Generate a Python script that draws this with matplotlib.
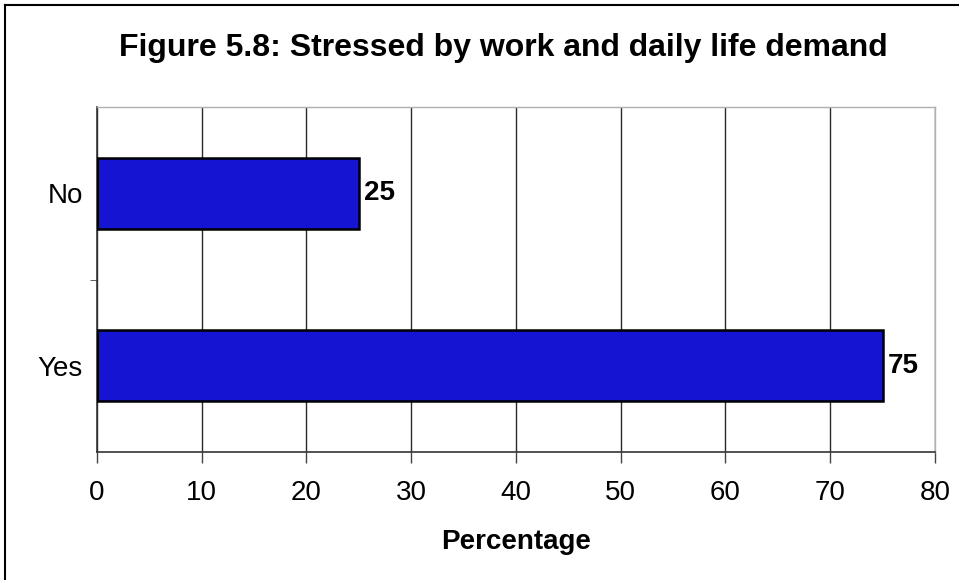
import numpy as np
import matplotlib.pyplot as plt
from matplotlib.lines import Line2D

plt.rcParams['font.family'] = ['Liberation Sans', 'DejaVu Sans']

# data
categories = ['Yes', 'No']
percentages = [75, 25]
x_ticks = [0, 10, 20, 30, 40, 50, 60, 70, 80]

title = 'Figure 5.8: Stressed by work and daily life demand'
x_label = 'Percentage'

fig = plt.figure(figsize=(9.59, 5.8), dpi=100)
ax = fig.add_axes([0.1011, 0.2207, 0.8738, 0.5948])

y_pos = np.arange(len(categories))
ax.barh(y_pos, percentages, height=0.41, color='#1414d2',
        edgecolor='black', linewidth=1.8, zorder=3)

# value labels just past the bar end
for y, v in zip(y_pos, percentages):
    ax.text(v + 0.5, y, str(v), va='center', ha='left',
            fontsize=20, fontweight='bold', color='black', zorder=4)

ax.set_xlim(0, 80)
ax.set_ylim(-0.5, 1.5)
ax.set_xticks(x_ticks)
ax.set_xticklabels([str(t) for t in x_ticks], fontsize=20)
ax.set_yticks(y_pos)
ax.set_yticklabels(categories, fontsize=20)
ax.tick_params(axis='y', length=0, pad=10)
ax.tick_params(axis='x', length=8, width=1, color='#444444', pad=12)
ax.set_yticks([0.5], minor=True)
ax.tick_params(axis='y', which='minor', length=5, color='#444444')

ax.xaxis.grid(True, color='#2a2a2a', linewidth=1.0, zorder=0)
ax.set_axisbelow(True)

for side in ['top', 'right']:
    ax.spines[side].set_color('#b0b0b0')
    ax.spines[side].set_linewidth(1.0)
for side in ['left', 'bottom']:
    ax.spines[side].set_color('#333333')
    ax.spines[side].set_linewidth(1.2)

ax.set_xlabel(x_label, fontsize=20, fontweight='bold', labelpad=17)

fig.text(0.525, 0.918, title, ha='center', va='center',
         fontsize=23, fontweight='bold')

# frame remnant along the top and left edge of the scan
fig.add_artist(Line2D([0.005, 1.0], [0.992, 0.992], transform=fig.transFigure,
                      color='black', linewidth=1.5))
fig.add_artist(Line2D([0.005, 0.005], [0.0, 0.992], transform=fig.transFigure,
                      color='black', linewidth=1.5))

fig.savefig('out.png', dpi=100)
